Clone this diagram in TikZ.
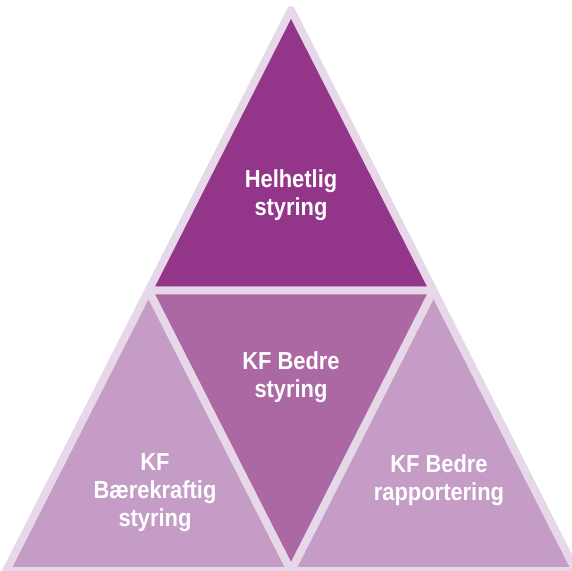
\documentclass[tikz,border=0pt]{standalone}
\usepackage{fontspec}
\newfontfamily\lblfont[FakeStretch=0.89]{Liberation Sans}
\usepackage{tikz}
\usetikzlibrary{calc, positioning}
\definecolor{darkpurple}{RGB}{147,53,137}
\definecolor{midpurple}{RGB}{171,104,162}
\definecolor{lightpurple}{RGB}{196,156,198}
\definecolor{edgelilac}{RGB}{230,216,232}

\begin{document}
\begin{tikzpicture}[x=0.02cm, y=-0.02cm,
    tribox/.style={draw=edgelilac, line width=4.5pt, line join=round},
    tritext/.style={text=white, align=center,
        font=\lblfont\bfseries\fontsize{14}{16}\selectfont}]
    \useasboundingbox (0,0) rectangle (572,571);
    % corners of the big triangle
    \coordinate (top) at (291,10);
    \coordinate (bl) at (6,571);
    \coordinate (br) at (576,571);
    \coordinate (ml) at ($(top)!0.5!(bl)$);
    \coordinate (mr) at ($(top)!0.5!(br)$);
    \coordinate (mb) at ($(bl)!0.5!(br)$);
    % the four parts
    \filldraw[tribox, fill=darkpurple]  (top) -- (ml) -- (mr) -- cycle;
    \filldraw[tribox, fill=midpurple]   (ml) -- (mr) -- (mb) -- cycle;
    \filldraw[tribox, fill=lightpurple] (ml) -- (bl) -- (mb) -- cycle;
    \filldraw[tribox, fill=lightpurple] (mr) -- (mb) -- (br) -- cycle;
    % texts
    \node[tritext] (helhetlig) at (291,195) {Helhetlig\\styring};
    \node[tritext] (bedre)     at (291,377) {KF Bedre\\styring};
    \node[tritext] (baerekraft) at (155,493) {KF\\Bærekraftig\\styring};
    \node[tritext] (rapport)   at (439,480) {KF Bedre\\rapportering};
\end{tikzpicture}
\end{document}
